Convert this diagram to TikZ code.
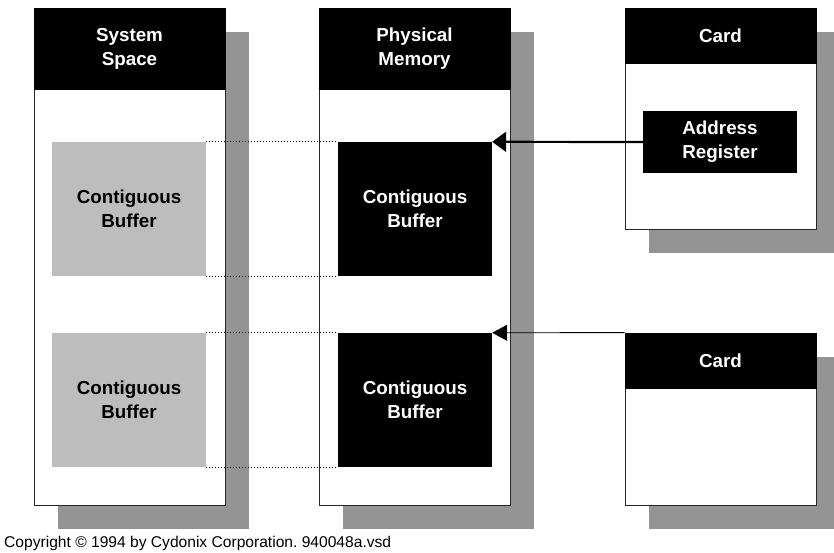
\documentclass[tikz,border=0pt]{standalone}
\usepackage{fontspec}
\setmainfont{Liberation Sans}
\usetikzlibrary{arrows.meta,shadows}
\definecolor{shadowgray}{gray}{0.58}
\definecolor{buffergray}{gray}{0.74}
\frenchspacing

\begin{document}
\begin{tikzpicture}[x=1pt,y=-1pt,
  txt/.style={font=\fontsize{18.8}{24}\selectfont\bfseries, align=center},
  body/.style={draw=black!85, fill=white, line width=0.8pt, inner sep=0pt, minimum width=191pt,
    drop shadow={shadow xshift=24pt, shadow yshift=-24pt, opacity=1, fill=shadowgray}},
  head/.style={txt, draw=black, fill=black, text=white, line width=0.8pt, inner sep=0pt, minimum width=191pt},
  darkbuf/.style={txt, fill=black, text=white, inner sep=0pt, minimum width=154pt, minimum height=134pt},
  lightbuf/.style={txt, fill=buffergray, text=black, inner sep=0pt, minimum width=154pt, minimum height=134pt},
  link/.style={black, line width=0.8pt, dash pattern=on 1pt off 2pt}]
\useasboundingbox (0,0) rectangle (834,553);

\node [body, minimum height=497pt] (sys) at (129.5,256.5) {};
\node [head, minimum height=81pt] (syshead) at (129.5,48.5) {System\\Space};
\node [lightbuf] (sysbufa) at (129,209) {Contiguous\\Buffer};
\node [lightbuf] (sysbufb) at (129,400) {Contiguous\\Buffer};

\node [body, minimum height=497pt] (mem) at (414.5,256.5) {};
\node [head, minimum height=81pt] (memhead) at (414.5,48.5) {Physical\\Memory};
\node [darkbuf] (membufa) at (415,209) {Contiguous\\Buffer};
\node [darkbuf] (membufb) at (415,400) {Contiguous\\Buffer};

\node [body, minimum height=221pt] (carda) at (720.5,118.5) {};
\node [head, minimum height=55pt] (cardahead) at (720.5,35.5) {Card};
\node [darkbuf, minimum height=62pt] (addr) at (720,142) {Address\\Register};

\node [body, minimum height=172pt] (cardb) at (720.5,419) {};
\node [head, minimum height=55pt] (cardbhead) at (720.5,360.5) {Card};

\draw [link] (sysbufa.north east) -- (membufa.north west);
\draw [link] (sysbufa.south east) -- (membufa.south west);
\draw [link] (sysbufb.north east) -- (membufb.north west);
\draw [link] (sysbufb.south east) -- (membufb.south west);

\draw [-{Triangle[length=14pt,width=20pt]}, line width=2.2pt] (addr.west) -- (membufa.north east);
\draw [-{Triangle[length=15pt,width=16pt]}, line width=0.9pt] (cardbhead.north west) -- (membufb.north east);

\node [anchor=base west, font=\fontsize{15.6}{18}\selectfont, inner sep=0pt] (copy) at (4,547) {Copyright © 1994 by Cydonix Corporation. 940048a.vsd};
\end{tikzpicture}
\end{document}
